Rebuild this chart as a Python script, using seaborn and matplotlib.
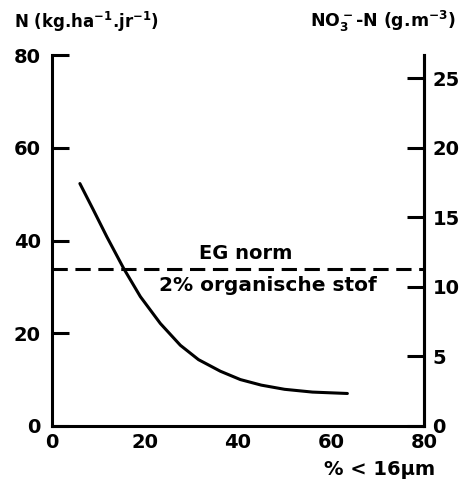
import matplotlib
matplotlib.use("Agg")
import matplotlib.pyplot as plt
import seaborn as sns
import pandas as pd

# fraction < 16 um (%) vs N leaching (kg/ha/jr)
clay_pct = [6.0, 8.9, 11.8, 15.4, 19.0, 23.3, 27.6, 31.5, 36.2, 40.5, 45.0, 50.0, 56.0, 63.5]
n_leach = [52.3, 46.6, 40.8, 34.0, 27.9, 22.1, 17.4, 14.3, 11.8, 10.0, 8.8, 7.9, 7.3, 7.0]
eg_norm = 33.9  # kg N/ha/jr, equals 11.3 g NO3-N per m3

x_ticks = [0, 20, 40, 60, 80]
y_ticks = [0, 20, 40, 60, 80]
y2_ticks = [0, 5, 10, 15, 20, 25]

df = pd.DataFrame({"pct": clay_pct, "n": n_leach})

sns.set_style("white")
plt.rcParams['font.family'] = ['DejaVu Sans']
plt.rcParams['font.weight'] = 'bold'
plt.rcParams['mathtext.default'] = 'bf'
plt.rcParams['text.color'] = 'black'

fig = plt.figure(figsize=(4.6, 4.84), dpi=100)
ax = fig.add_axes([0.113, 0.12, 0.809, 0.766])

sns.lineplot(data=df, x="pct", y="n", ax=ax, color="black", linewidth=2.2)
ax.axhline(eg_norm, color="black", linewidth=2.2, linestyle=(0, (5, 2.5)))

ax.text(41.6, 37.3, "EG norm", ha="center", va="center", fontsize=14)
ax.text(46.5, 30.3, "2% organische stof", ha="center", va="center", fontsize=14.5)

ax.set_xlim(0, 80)
ax.set_ylim(0, 80)
ax.set_xticks(x_ticks)
ax.set_yticks(y_ticks)
ax.set_xlabel("")
ax.set_ylabel("")
ax.spines["top"].set_visible(False)
for s in ["left", "bottom", "right"]:
    ax.spines[s].set_linewidth(2.2)
    ax.spines[s].set_color("black")
ax.tick_params(axis="both", direction="in", length=12, width=2.2, labelsize=14, colors="black")
ax.tick_params(axis="y", pad=8)
ax.tick_params(axis="x", pad=5)

ax2 = ax.twinx()
ax2.set_ylim(0, 80 / 3)
ax2.set_yticks(y2_ticks)
for s in ["top", "left", "bottom"]:
    ax2.spines[s].set_visible(False)
ax2.spines["right"].set_linewidth(2.2)
ax2.spines["right"].set_color("black")
ax2.tick_params(axis="y", direction="in", length=12, width=2.2, labelsize=14, pad=6, colors="black")

fig.text(0.03, 0.955, r"N (kg.ha$^{-1}$.jr$^{-1}$)", fontsize=12, ha="left", va="center")
fig.text(0.99, 0.955, r"NO$_3^-$-N (g.m$^{-3}$)", fontsize=12.5, ha="right", va="center")
fig.text(0.945, 0.03, "% < 16µm", fontsize=14, ha="right", va="center")

fig.savefig("out.png", dpi=100)
